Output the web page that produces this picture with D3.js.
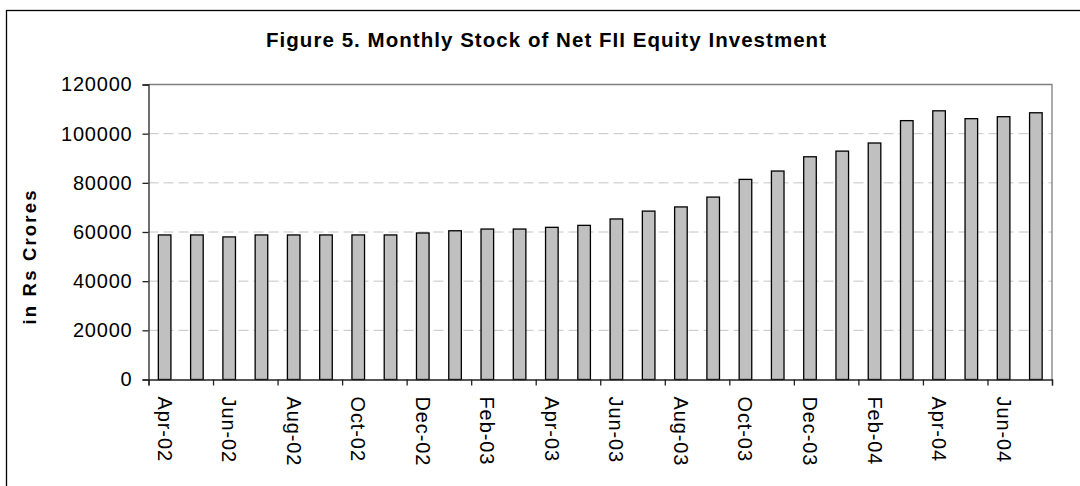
<!DOCTYPE html>
<html>
<head>
<meta charset="utf-8">
<script src="https://cdn.jsdelivr.net/npm/d3@7"></script>
<style>
  body { margin: 0; background: #fff; }
  svg { display: block; font-family: "Liberation Sans", Arial, sans-serif; }
</style>
</head>
<body>
<script>
// months Apr-02 .. Jul-04
const months = ['Apr-02', 'May-02', 'Jun-02', 'Jul-02', 'Aug-02', 'Sep-02', 'Oct-02', 'Nov-02', 'Dec-02',
    'Jan-03', 'Feb-03', 'Mar-03', 'Apr-03', 'May-03', 'Jun-03', 'Jul-03', 'Aug-03', 'Sep-03', 'Oct-03',
    'Nov-03', 'Dec-03', 'Jan-04', 'Feb-04', 'Mar-04', 'Apr-04', 'May-04', 'Jun-04', 'Jul-04']
const stock = [58800, 58800, 58000, 58800, 58800, 58800, 58800, 58800, 59600, 60500, 61200, 61200,
    61900, 62700, 65300, 68500, 70200, 74200, 81400, 84800, 90600, 92900, 96200, 105300,
    109300, 106100, 106900, 108500]
const yTicks = [0, 20000, 40000, 60000, 80000, 100000, 120000]
const title = 'Figure 5. Monthly Stock of Net FII Equity Investment'
const yTitle = 'in Rs Crores'

const W = 1080, H = 486
const m = { left: 148.5, right: 1052, top: 84.5, bottom: 379.5 }

const svg = d3.select('body').append('svg')
    .attr('width', W)
    .attr('height', H)

// outer chart frame (runs off the right and bottom edges)
svg.append('rect')
    .attr('x', 6.5).attr('y', 10.5)
    .attr('width', W).attr('height', H)
    .attr('fill', 'none')
    .attr('stroke', '#000')
    .attr('stroke-width', 1.3)

const x = d3.scaleBand()
    .domain(months)
    .range([m.left, m.right])

const xEdge = d3.scaleLinear()
    .domain([0, months.length])
    .range([m.left, m.right])

const y = d3.scaleLinear()
    .domain([0, 120000])
    .range([m.bottom, m.top])

// gridlines
svg.append('g')
    .selectAll('line')
    .data(yTicks.filter(d => d > 0 && d < 120000))
    .enter().append('line')
    .attr('x1', m.left).attr('x2', m.right)
    .attr('y1', d => y(d)).attr('y2', d => y(d))
    .attr('stroke', '#c4c4c4')
    .attr('stroke-dasharray', '10,5')

// plot area top / right border
svg.append('path')
    .attr('d', `M${m.left},${m.top}H${m.right}V${m.bottom}`)
    .attr('fill', 'none')
    .attr('stroke', '#808080')
    .attr('stroke-width', 1.3)

// bars
const bw = x.bandwidth() * 0.39
svg.append('g')
    .selectAll('rect')
    .data(stock)
    .enter().append('rect')
    .attr('x', (d, i) => x(months[i]) + (x.bandwidth() - bw) / 2)
    .attr('y', d => y(d))
    .attr('width', bw)
    .attr('height', d => y(0) - y(d))
    .attr('fill', '#c0c0c0')
    .attr('stroke', '#000')
    .attr('stroke-width', 1.3)

// y axis
const yAxis = svg.append('g')
    .attr('transform', `translate(${m.left},0)`)
    .call(d3.axisLeft(y).tickValues(yTicks).tickSize(6).tickPadding(10).tickFormat(d3.format('d')))
yAxis.select('.domain').attr('stroke', '#222').attr('stroke-width', 1.3)
yAxis.selectAll('.tick line').attr('stroke', '#222').attr('stroke-width', 1.3)
yAxis.selectAll('.tick text')
    .attr('font-size', 20)
    .attr('letter-spacing', 0.8)
    .attr('fill', '#000')
    .attr('font-family', '"Liberation Sans", Arial, sans-serif')

// x axis: tick marks at every second band edge
const xTickAxis = svg.append('g')
    .attr('transform', `translate(0,${m.bottom})`)
    .call(d3.axisBottom(xEdge)
        .tickValues(d3.range(0, months.length + 1, 2))
        .tickSize(6)
        .tickFormat(''))
xTickAxis.select('.domain').attr('stroke', '#222').attr('stroke-width', 1.3)
xTickAxis.selectAll('.tick line').attr('stroke', '#222').attr('stroke-width', 1.3)

// x labels, rotated, on every second month
svg.append('g')
    .selectAll('text')
    .data(months.filter((d, i) => i % 2 === 0))
    .enter().append('text')
    .attr('transform', d => `translate(${x(d) + x.bandwidth() / 2},${m.bottom + 17}) rotate(90)`)
    .attr('dy', '0.35em')
    .attr('font-size', 20)
    .attr('letter-spacing', 0.9)
    .attr('fill', '#000')
    .text(d => d)

// title
svg.append('text')
    .attr('x', 266)
    .attr('y', 47)
    .attr('font-size', 20.5)
    .attr('font-weight', 'bold')
    .attr('textLength', 560)
    .attr('fill', '#000')
    .text(title)

// y axis title
svg.append('text')
    .attr('transform', 'translate(36,257.5) rotate(-90)')
    .attr('text-anchor', 'middle')
    .attr('font-size', 18.5)
    .attr('font-weight', 'bold')
    .attr('textLength', 134)
    .attr('fill', '#000')
    .text(yTitle)
</script>
</body>
</html>
